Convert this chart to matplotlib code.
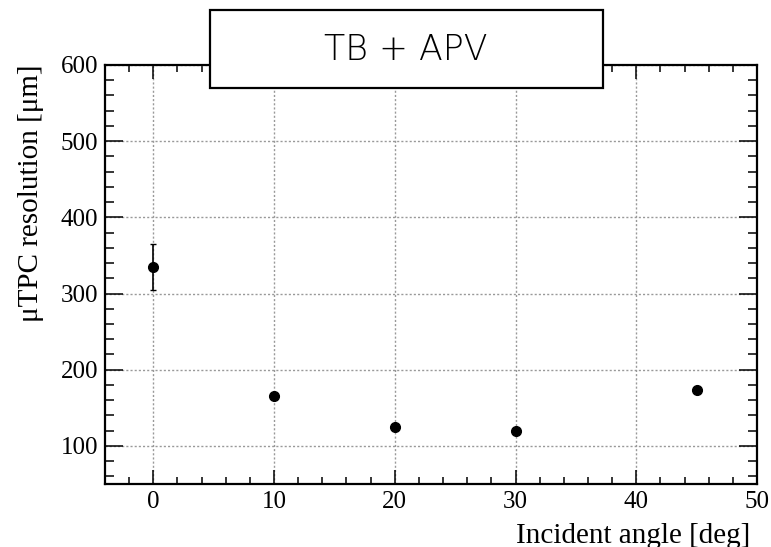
import matplotlib
matplotlib.use("Agg")
import matplotlib.pyplot as plt
from matplotlib.ticker import MultipleLocator

# Resolution vs. incident angle
angles = [0, 10, 20, 30, 45]
resolution = [335, 166, 125, 120, 173]
resolution_err = [30, 0, 0, 0, 0]

x_ticks = [0, 10, 20, 30, 40, 50]
y_ticks = [100, 200, 300, 400, 500, 600]

serif = ["Liberation Serif", "DejaVu Serif"]

fig = plt.figure(figsize=(7.71, 5.47), dpi=100)
ax = fig.add_axes([0.1362, 0.1152, 0.9818 - 0.1362, 0.8812 - 0.1152])

ax.errorbar(angles, resolution, yerr=resolution_err, fmt="o", color="black",
            markersize=7, elinewidth=1.2, capsize=2.5, capthick=1.0, zorder=5)

ax.set_xlim(-4, 50)
ax.set_ylim(50, 600)
ax.set_xticks(x_ticks)
ax.set_yticks(y_ticks)
ax.xaxis.set_minor_locator(MultipleLocator(2))
ax.yaxis.set_minor_locator(MultipleLocator(20))

ax.grid(True, which="major", linestyle=(0, (1.5, 1.5)), color="#999999", linewidth=1.0)
ax.set_axisbelow(True)

ax.tick_params(which="both", direction="in", top=True, right=True, width=1.1,
               labelsize=18, pad=5)
ax.tick_params(axis="y", which="major", length=13)
ax.tick_params(axis="y", which="minor", length=6.5)
ax.tick_params(axis="x", which="major", length=10)
ax.tick_params(axis="x", which="minor", length=5)
for lbl in ax.get_xticklabels() + ax.get_yticklabels():
    lbl.set_family(serif)
for s in ax.spines.values():
    s.set_linewidth(1.6)

ax.set_xlabel("Incident angle [deg]", family=serif, fontsize=21)
ax.xaxis.set_label_coords(0.99, -0.092)
ax.xaxis.label.set_horizontalalignment("right")
ax.xaxis.label.set_verticalalignment("top")
ax.set_ylabel("\u03bcTPC resolution [\u03bcm]", family=serif, fontsize=21)
ax.yaxis.set_label_coords(-0.094, 1.0)
ax.yaxis.label.set_horizontalalignment("right")

# Title box
box = plt.Rectangle((210 / 771, 1 - 88 / 547), (603 - 210) / 771, (88 - 10) / 547,
                    transform=fig.transFigure, facecolor="white", edgecolor="black",
                    linewidth=1.6, zorder=9)
fig.patches.append(box)
fig.text(405.5 / 771, 1 - 50 / 547, "TB + APV", ha="center", va="center",
         fontsize=25, color="black", family=["DejaVu Sans"],
         fontweight="light", zorder=10)

fig.savefig("out.png", dpi=100)
